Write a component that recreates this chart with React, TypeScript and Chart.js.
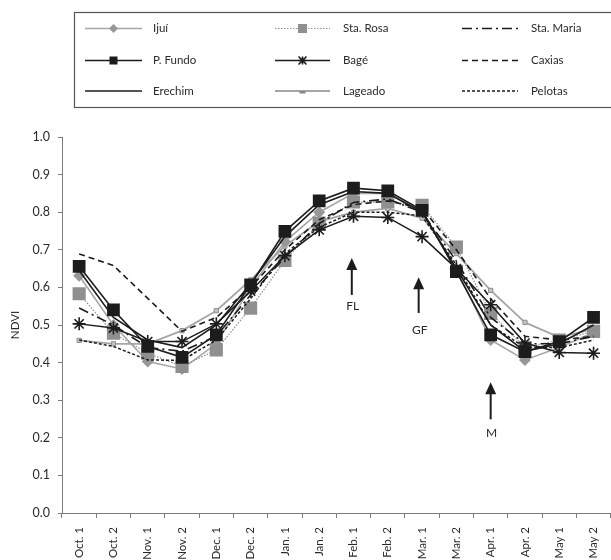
import React, { useEffect, useRef } from 'react';
import { Chart, registerables } from 'chart.js';

Chart.register(...registerables);

// ---------- data ----------
const categories = ['Oct. 1', 'Oct. 2', 'Nov. 1', 'Nov. 2', 'Dec. 1', 'Dec. 2', 'Jan. 1', 'Jan. 2', 'Feb. 1', 'Feb. 2', 'Mar. 1', 'Mar. 2', 'Apr. 1', 'Apr. 2', 'May 1', 'May 2'];

const ijui = [0.631, 0.50, 0.403, 0.383, 0.45, 0.60, 0.722, 0.80, 0.85, 0.85, 0.80, 0.65, 0.46, 0.407, 0.44, 0.48];
const staRosa = [0.583, 0.478, 0.425, 0.39, 0.434, 0.545, 0.672, 0.771, 0.827, 0.827, 0.818, 0.707, 0.531, 0.44, 0.46, 0.483];
const staMaria = [0.545, 0.50, 0.44, 0.43, 0.47, 0.58, 0.68, 0.77, 0.826, 0.835, 0.80, 0.67, 0.52, 0.45, 0.45, 0.47];
const pFundo = [0.656, 0.540, 0.443, 0.414, 0.474, 0.607, 0.749, 0.830, 0.864, 0.857, 0.805, 0.642, 0.474, 0.429, 0.456, 0.520];
const bage = [0.503, 0.492, 0.456, 0.456, 0.503, 0.59, 0.684, 0.753, 0.789, 0.786, 0.735, 0.65, 0.554, 0.452, 0.427, 0.425];
const caxias = [0.689, 0.658, 0.571, 0.483, 0.52, 0.60, 0.70, 0.78, 0.82, 0.83, 0.81, 0.70, 0.57, 0.47, 0.46, 0.47];
const erechim = [0.645, 0.52, 0.46, 0.44, 0.50, 0.61, 0.735, 0.82, 0.855, 0.85, 0.80, 0.65, 0.50, 0.43, 0.45, 0.50];
const lageado = [0.459, 0.45, 0.45, 0.485, 0.538, 0.62, 0.71, 0.775, 0.80, 0.81, 0.784, 0.69, 0.592, 0.507, 0.467, 0.49];
const pelotas = [0.46, 0.443, 0.407, 0.406, 0.46, 0.57, 0.69, 0.76, 0.80, 0.80, 0.79, 0.66, 0.50, 0.44, 0.44, 0.46];

const yTicks = [0, 0.1, 0.2, 0.3, 0.4, 0.5, 0.6, 0.7, 0.8, 0.9, 1.0];

// stage annotations (arrows)
const annotLabels = ['FL', 'GF', 'M'];
const annotX = [7.95, 9.9, 12];
const annotTip = [0.678, 0.627, 0.348];
const annotBase = [0.58, 0.532, 0.249];
const annotText = [0.551, 0.487, 0.212];

// ---------- styles ----------
const FONT = 'Lato, "Open Sans", sans-serif';
const TEXT = '#2a2a2a';
const AXIS = '#7a7a7a';
const BLACK = '#1c1c1c';
const GRAY = '#8f8f8f';
const LGRAY = '#a6a6a6';

type Marker = 'none' | 'square' | 'diamond' | 'star' | 'bar';
interface Series {
  label: string;
  data: number[];
  color: string;
  dash: number[];
  width: number;
  marker: Marker;
  markerColor: string;
  radius: number;
  order: number;
}

const series: Series[] = [
  { label: 'Ijuí', data: ijui, color: LGRAY, dash: [], width: 1.6, marker: 'diamond', markerColor: '#979797', radius: 6, order: 6 },
  { label: 'Sta. Rosa', data: staRosa, color: GRAY, dash: [1.5, 1.5], width: 1.2, marker: 'square', markerColor: GRAY, radius: 9.3, order: 5 },
  { label: 'Sta. Maria', data: staMaria, color: BLACK, dash: [10, 4, 2, 4], width: 1.6, marker: 'none', markerColor: BLACK, radius: 0, order: 3 },
  { label: 'P. Fundo', data: pFundo, color: BLACK, dash: [], width: 1.6, marker: 'square', markerColor: BLACK, radius: 9, order: 0 },
  { label: 'Bagé', data: bage, color: BLACK, dash: [], width: 1.5, marker: 'star', markerColor: BLACK, radius: 6.5, order: 1 },
  { label: 'Caxias', data: caxias, color: BLACK, dash: [6, 4], width: 1.6, marker: 'none', markerColor: BLACK, radius: 0, order: 4 },
  { label: 'Erechim', data: erechim, color: BLACK, dash: [], width: 1.6, marker: 'none', markerColor: BLACK, radius: 0, order: 2 },
  { label: 'Lageado', data: lageado, color: LGRAY, dash: [], width: 1.8, marker: 'bar', markerColor: GRAY, radius: 3, order: 7 },
  { label: 'Pelotas', data: pelotas, color: BLACK, dash: [3, 2], width: 1.5, marker: 'none', markerColor: BLACK, radius: 0, order: 4 },
];

// legend grid (column-major order as in the figure)
const legendColumns = [
  ['Ijuí', 'P. Fundo', 'Erechim'],
  ['Sta. Rosa', 'Bagé', 'Lageado'],
  ['Sta. Maria', 'Caxias', 'Pelotas'],
];

const pointStyleFor = (m: Marker): any => {
  switch (m) {
    case 'square': return 'rect';
    case 'diamond': return 'rectRot';
    case 'star': return 'star';
    case 'bar': return 'rect';
    default: return 'circle';
  }
};

function drawMarker(ctx: CanvasRenderingContext2D, m: Marker, x: number, y: number, size: number, color: string) {
  ctx.save();
  ctx.setLineDash([]);
  ctx.fillStyle = color;
  ctx.strokeStyle = color;
  if (m === 'square') {
    ctx.fillRect(x - size / 2, y - size / 2, size, size);
  } else if (m === 'diamond') {
    ctx.beginPath();
    ctx.moveTo(x, y - size / 2);
    ctx.lineTo(x + size / 2, y);
    ctx.lineTo(x, y + size / 2);
    ctx.lineTo(x - size / 2, y);
    ctx.closePath();
    ctx.fill();
  } else if (m === 'star') {
    ctx.lineWidth = 1.6;
    const r = size / 2;
    ctx.beginPath();
    ctx.moveTo(x - r, y - r); ctx.lineTo(x + r, y + r);
    ctx.moveTo(x - r, y + r); ctx.lineTo(x + r, y - r);
    ctx.moveTo(x, y - r); ctx.lineTo(x, y + r);
    ctx.moveTo(x - r, y); ctx.lineTo(x + r, y);
    ctx.stroke();
  } else if (m === 'bar') {
    ctx.fillStyle = '#888';
    ctx.fillRect(x - 3, y, 6, 2.5);
  }
  ctx.restore();
}

const legendPlugin = {
  id: 'customLegend',
  afterDraw(chart: any) {
    const ctx: CanvasRenderingContext2D = chart.ctx;
    ctx.save();
    ctx.strokeStyle = '#555';
    ctx.lineWidth = 1.2;
    ctx.strokeRect(74.5, 12.5, 560, 95);
    const rowsY = [28.5, 60.5, 91];
    const colLine = [[85, 142], [275, 330], [462, 518]];
    const colText = [153, 343, 531];
    ctx.font = `11.5px ${FONT}`;
    ctx.textBaseline = 'middle';
    ctx.textAlign = 'left';
    legendColumns.forEach((col, ci) => {
      col.forEach((name, ri) => {
        const s = series.find((q) => q.label === name)!;
        const y = rowsY[ri];
        const [x1, x2] = colLine[ci];
        ctx.save();
        ctx.strokeStyle = s.color;
        ctx.lineWidth = s.width;
        ctx.setLineDash(s.dash);
        ctx.beginPath();
        ctx.moveTo(x1, y);
        ctx.lineTo(x2, y);
        ctx.stroke();
        ctx.restore();
        if (s.marker !== 'none') {
          const size = s.marker === 'square' ? (s.label === 'Sta. Rosa' ? 9 : 8) : s.marker === 'diamond' ? 9 : 8;
          drawMarker(ctx, s.marker, (x1 + x2) / 2, y, size, s.markerColor);
        }
        ctx.fillStyle = TEXT;
        ctx.fillText(name, colText[ci], y);
      });
    });
    ctx.restore();
  },
};

const annotationPlugin = {
  id: 'stageArrows',
  afterDraw(chart: any) {
    const ctx: CanvasRenderingContext2D = chart.ctx;
    const xs = chart.scales.x;
    const ys = chart.scales.y;
    ctx.save();
    annotLabels.forEach((lab, i) => {
      const x = xs.getPixelForValue(annotX[i]);
      const tip = ys.getPixelForValue(annotTip[i]);
      const base = ys.getPixelForValue(annotBase[i]);
      const ty = ys.getPixelForValue(annotText[i]);
      ctx.fillStyle = BLACK;
      ctx.strokeStyle = BLACK;
      ctx.lineWidth = 2;
      ctx.beginPath();
      ctx.moveTo(x, tip + 8);
      ctx.lineTo(x, base);
      ctx.stroke();
      ctx.beginPath();
      ctx.moveTo(x, tip);
      ctx.lineTo(x + 5.5, tip + 12);
      ctx.lineTo(x - 5.5, tip + 12);
      ctx.closePath();
      ctx.fill();
      ctx.fillStyle = TEXT;
      ctx.font = `12px ${FONT}`;
      ctx.textAlign = 'center';
      ctx.textBaseline = 'middle';
      ctx.fillText(lab, x + 1, ty);
    });
    ctx.save();
    ctx.translate(15, (chart.chartArea.top + chart.chartArea.bottom) / 2);
    ctx.rotate(-Math.PI / 2);
    ctx.fillStyle = TEXT;
    ctx.font = `11.5px ${FONT}`;
    ctx.textAlign = 'center';
    ctx.textBaseline = 'middle';
    ctx.fillText('NDVI', 0, 0);
    ctx.restore();
    ctx.restore();
  },
};

export default function App() {
  const ref = useRef<HTMLCanvasElement>(null);
  useEffect(() => {
    const canvas = ref.current;
    if (!canvas) return;
    const datasets = series.map((s) => ({
      label: s.label,
      data: s.data,
      borderColor: s.color,
      borderWidth: s.width,
      borderDash: s.dash,
      tension: 0,
      fill: false,
      pointStyle: pointStyleFor(s.marker),
      pointRadius: s.radius,
      pointHoverRadius: s.radius,
      pointBackgroundColor: s.marker === 'bar' ? '#c4c4c4' : s.markerColor,
      pointBorderColor: s.markerColor,
      pointBorderWidth: s.marker === 'star' ? 1.6 : s.marker === 'bar' ? 1 : 0,
      order: s.order,
    }));
    const chart = new Chart(canvas, {
      type: 'line',
      data: { labels: categories, datasets },
      options: {
        responsive: false,
        animation: false,
        devicePixelRatio: 1,
        layout: { padding: { left: 0, right: 3, top: 137, bottom: 0 } },
        plugins: { legend: { display: false }, tooltip: { enabled: false }, title: { display: false } },
        scales: {
          x: {
            offset: true,
            grid: { offset: true, drawOnChartArea: false, drawTicks: true, tickLength: 5, color: AXIS },
            border: { display: true, color: AXIS, width: 1 },
            ticks: { minRotation: 90, maxRotation: 90, autoSkip: false, padding: 9, color: TEXT, font: { family: FONT, size: 11.5 } },
            afterFit: (s: any) => { s.height = 47; },
          },
          y: {
            min: 0,
            max: 1,
            afterBuildTicks: (s: any) => { s.ticks = yTicks.map((v) => ({ value: v })); },
            grid: { drawOnChartArea: false, drawTicks: true, tickLength: 4, color: AXIS },
            border: { display: true, color: AXIS, width: 1 },
            ticks: { padding: 8, color: TEXT, font: { family: FONT, size: 12.5 }, callback: (v: any) => Number(v).toFixed(1) },
            afterFit: (s: any) => { s.width = 62; },
          },
        },
      } as any,
      plugins: [legendPlugin, annotationPlugin],
    });
    return () => chart.destroy();
  }, []);
  return (
    <div style={{ position: 'fixed', left: 0, top: 0, width: 620, height: 560, background: '#ffffff', overflow: 'hidden' }}>
      <canvas ref={ref} width={620} height={560} style={{ width: 620, height: 560, display: 'block' }} />
    </div>
  );
}
